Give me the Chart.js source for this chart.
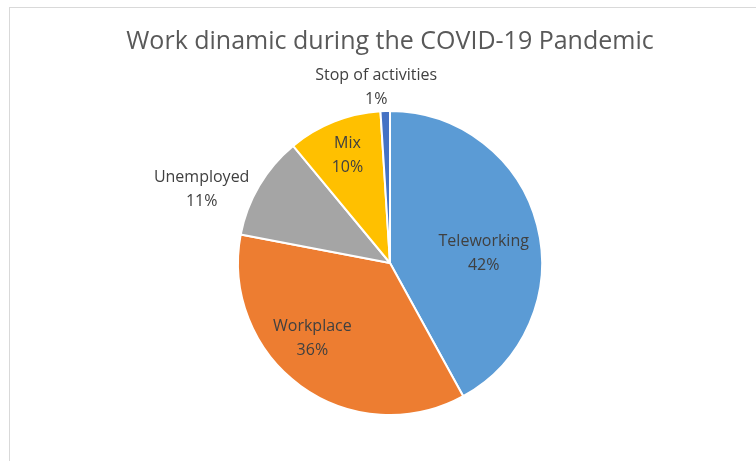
<!DOCTYPE html>
<html>
<head>
<meta charset="utf-8">
<title>Work dinamic during the COVID-19 Pandemic</title>
<script src="https://cdn.jsdelivr.net/npm/chart.js@4/dist/chart.umd.min.js"></script>
<style>
    html, body { margin: 0; padding: 0; background: #fff; overflow: hidden; }
    .frame {
        position: absolute;
        left: 9px;
        top: 7px;
        width: 800px;
        height: 500px;
        border: 1px solid #d9d9d9;
    }
    #work-chart { position: absolute; left: 0; top: 0; }
</style>
</head>
<body>
<div class="frame">
    <canvas id="work-chart" width="746" height="453"></canvas>
</div>
<script>
// Work situation shares (%)
const categories = ['Teleworking', 'Workplace', 'Unemployed', 'Mix', 'Stop of activities'];
const shares = [42, 36, 11, 10, 1];
const sliceColors = ['#5B9BD5', '#ED7D31', '#A5A5A5', '#FFC000', '#4472C4'];

// Where each label sits: fraction of the radius and angle shift (deg) from the slice middle
const labelPlacement = [
    { f: 0.62, shift: 8.4 },
    { f: 0.71, shift: 10 },
    { f: 1.33, shift: -9.3 },
    { f: 0.76, shift: 0 },
    { f: 1.16, shift: -2.7 }
];

const FONT = '"Open Sans", "DejaVu Sans", sans-serif';

// Draws "name / xx%" labels for every slice
const sliceLabels = {
    id: 'sliceLabels',
    afterDatasetsDraw(chart) {
        const ctx = chart.ctx;
        const meta = chart.getDatasetMeta(0);
        const values = chart.data.datasets[0].data;
        const total = values.reduce((a, b) => a + b, 0);

        ctx.save();
        ctx.font = '16px ' + FONT;
        ctx.fillStyle = '#404040';
        ctx.textAlign = 'center';
        ctx.textBaseline = 'middle';

        meta.data.forEach((arc, i) => {
            const p = arc.getProps(['x', 'y', 'startAngle', 'endAngle', 'outerRadius'], true);
            const place = labelPlacement[i];
            const angle = (p.startAngle + p.endAngle) / 2 + place.shift * Math.PI / 180;
            const r = p.outerRadius * place.f;
            const cx = p.x + Math.cos(angle) * r;
            const cy = p.y + Math.sin(angle) * r;
            const pct = Math.round(values[i] / total * 100) + '%';
            ctx.fillText(chart.data.labels[i], cx, cy - 12);
            ctx.fillText(pct, cx, cy + 12);
        });
        ctx.restore();
    }
};

const ctx = document.getElementById('work-chart').getContext('2d');
new Chart(ctx, {
    type: 'pie',
    data: {
        labels: categories,
        datasets: [{
            data: shares,
            backgroundColor: sliceColors,
            borderColor: '#ffffff',
            borderWidth: 2
        }]
    },
    options: {
        responsive: false,
        animation: false,
        layout: {
            padding: { left: 14, right: 0, top: 0, bottom: 45 }
        },
        plugins: {
            legend: { display: false },
            tooltip: { enabled: false },
            title: {
                display: true,
                text: 'Work dinamic during the COVID-19 Pandemic',
                color: '#595959',
                font: { family: FONT, size: 25, weight: 'normal', lineHeight: 1.2 },
                padding: { top: 19, bottom: 53 }
            }
        }
    },
    plugins: [sliceLabels]
});
</script>
</body>
</html>
